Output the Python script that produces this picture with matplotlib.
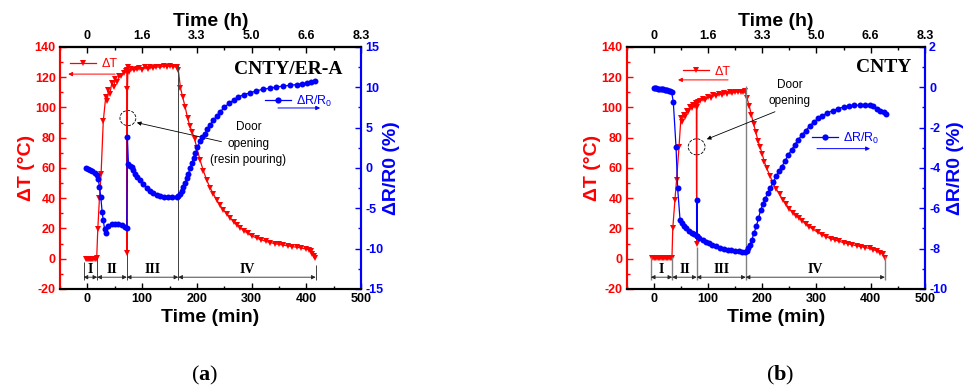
import matplotlib
matplotlib.use('Agg')
import matplotlib.pyplot as plt
from matplotlib.patches import Ellipse
from matplotlib.lines import Line2D
from matplotlib.ticker import MultipleLocator

plt.rcParams['font.family'] = ['Liberation Sans', 'DejaVu Sans']
plt.rcParams['axes.unicode_minus'] = False
plt.rcParams['mathtext.fontset'] = 'custom'
plt.rcParams['mathtext.rm'] = 'Liberation Sans'
plt.rcParams['mathtext.bf'] = 'Liberation Serif:bold'

RED = '#ff0000'
BLUE = '#0000ff'

# ---- panel (a) CNTY/ER-A ----
a_dt_t = [-3, -1, 1, 3, 5, 7, 9, 11, 13, 15, 17, 19, 22, 25, 29, 33.5, 36, 38.5, 41, 44.5,
          48, 51, 54, 58, 62, 66, 70, 72, 72.5, 73.2, 74, 76, 80, 85, 90, 95, 100, 105, 110, 115,
          120, 126, 133, 140, 145, 150, 157, 163, 166, 170, 174, 178.5, 183, 187, 191, 196, 200, 206, 212, 218,
          224, 230, 236, 242, 248, 255, 261, 267, 273, 279, 286, 293, 300, 310, 318, 326, 334, 342, 350, 358,
          366, 374, 383, 391, 399, 405, 408, 411, 414, 416]
a_dt_v = [0, 0, 0, 0, 0, 0, 0, 0, 0, 0, 0.5, 19.5, 40, 56, 91, 107, 104, 111.5, 109, 116,
          113.5, 119, 117, 120.5, 121, 122.5, 124, 125, 4, 112, 127, 123.5, 125.5, 124.5, 125.5, 126, 125, 126.5, 125.5, 126.5,
          126, 127, 126.5, 127.5, 127, 127.5, 127, 127, 125, 113, 107, 100.5, 93, 88, 84, 79, 73, 65, 58, 52,
          47, 43, 39, 35.5, 32.5, 29.5, 27, 24.5, 22.5, 20.5, 18.5, 16.8, 15.2, 13.5, 12.5, 11.5, 10.7, 10, 9.5, 9,
          8.5, 8, 7.6, 7, 6.5, 6, 5, 3, 1.5, 0.5]
a_dr_t = [-2.4, 1, 5, 9, 14, 17, 20, 22, 24.5, 27, 29, 31.5, 34, 38.5, 44.5, 50, 56.5, 63, 69, 72,
          73, 75, 78, 81, 84, 87, 91, 96, 102, 108.5, 114, 120.5, 127, 133, 140, 147, 155, 163, 166, 169,
          172.5, 175.5, 178.5, 181.5, 184.5, 188, 191, 194, 197, 201, 206, 210, 215, 219, 224, 230, 236, 243, 250, 258,
          267, 276, 286, 297, 308, 320, 334, 345, 358, 370, 382, 392, 401, 409, 416]
a_dr_v = [0.0, -0.15, -0.25, -0.4, -0.6, -0.9, -1.4, -2.4, -3.6, -5.5, -6.5, -7.6, -8.0, -7.2, -7.0, -6.9, -6.95, -7.1, -7.3, -7.4,
          3.9, 0.5, 0.3, 0.1, -0.3, -0.7, -1.1, -1.5, -2.0, -2.5, -2.85, -3.1, -3.35, -3.5, -3.6, -3.65, -3.65, -3.6, -3.5, -3.2,
          -2.9, -2.4, -1.9, -1.3, -0.7, 0.0, 0.6, 1.2, 1.8, 2.6, 3.3, 3.8, 4.2, 4.8, 5.3, 5.9, 6.4, 7.0, 7.5, 8.0,
          8.4, 8.8, 9.1, 9.3, 9.55, 9.75, 9.9, 10.05, 10.15, 10.25, 10.35, 10.45, 10.5, 10.6, 10.75]
a_bounds = [-7, 18, 72, 166, 417]
a_tops = [-2, 0.5, 4, 128, -4]

# ---- panel (b) CNTY ----
b_dt_t = [-3, -0.5, 2, 4.5, 7, 9.5, 12, 14.5, 17, 19.5, 22, 24.5, 27, 29.5, 32, 33.5,
          35, 39, 42, 46.5, 50, 52, 55, 58, 61, 64, 67, 70, 73, 76, 78.5, 79, 79.5,
          81, 85, 90, 95, 100, 105, 110, 115, 120, 125, 130, 135, 140, 145, 150, 155, 160, 165, 168,
          172, 176, 180, 184, 188, 192, 196, 200, 204, 208, 214, 220, 226, 232, 238, 244, 250, 256, 262, 268, 274, 280, 287, 294,
          302, 310, 318, 326, 334, 342, 350, 358, 366, 374, 382, 390, 398, 405, 412, 418, 422, 426]
b_dt_v = [0.5, 0.5, 0.5, 0.5, 0.5, 0.5, 0.5, 0.5, 0.5, 0.5, 0.5, 0.5, 0.5, 0.5, 0.5, 0.5,
          20, 39, 52, 74, 93, 90.5, 95, 94, 98, 97, 100, 99.5, 101.5, 101, 103, 10, 100,
          103.5, 104, 105.5, 105, 107, 106.5, 108, 107.5, 109, 108.5, 109.5, 109, 110, 109.5, 110.5, 110, 110.5, 110, 111,
          106, 101, 95, 89, 84, 78, 74, 69, 64, 60, 55, 50, 46, 42.5, 39, 36, 33, 30.5, 28.5, 27, 25, 23, 21, 19.5,
          17.5, 16, 14.5, 13.3, 12.4, 11.5, 10.6, 9.9, 9.2, 8.6, 8, 7.4, 6.8, 6, 5, 4, 3.2, 0.8]
b_dr_t = [0, 2.5, 5, 7.5, 10, 12.5, 15, 17.5, 20, 22.5, 25, 27.5, 30, 33, 36, 41, 44, 48.5, 52, 56,
          60, 65, 70, 75, 79, 79.5, 80, 84, 90, 96, 102, 108, 115, 122, 129, 136, 143, 150, 157, 163,
          168, 171, 174, 177, 181, 185, 189, 193, 197, 201, 205, 210, 215, 220, 226, 231, 236, 242, 248, 254,
          260, 266, 273, 280, 288, 295, 303, 311, 320, 330, 340, 350, 360, 370, 380, 390, 398, 405, 412, 418,
          424, 429]
b_dr_v = [-0.05, -0.04, -0.05, -0.06, -0.07, -0.08, -0.09, -0.1, -0.11, -0.12, -0.14, -0.16, -0.19, -0.25, -0.73, -2.95, -5.0, -6.6, -6.75, -6.9,
          -7.0, -7.1, -7.2, -7.28, -7.35, -5.6, -7.37, -7.45, -7.55, -7.65, -7.72, -7.8, -7.87, -7.95, -8.0, -8.05, -8.05, -8.1, -8.1, -8.15,
          -8.17, -8.1, -7.95, -7.8, -7.55, -7.2, -6.9, -6.5, -6.1, -5.8, -5.55, -5.25, -5.0, -4.7, -4.4, -4.15, -3.94, -3.65, -3.35, -3.1,
          -2.85, -2.6, -2.37, -2.15, -1.9, -1.72, -1.54, -1.4, -1.27, -1.15, -1.05, -0.98, -0.93, -0.9, -0.88, -0.88, -0.9, -0.95, -1.05, -1.15,
          -1.23, -1.3]
b_bounds = [-5.5, 34, 79, 169.5, 426]
b_tops = [1, 1, 8, 114, 1.5]

regions = ['I', 'II', 'III', 'IV']
x_ticks = [0, 100, 200, 300, 400, 500]
hour_labels = ['0', '1.6', '3.3', '5.0', '6.6', '8.3']

fig = plt.figure(figsize=(9.65, 3.9), dpi=100)


def bold_ticks(axis_obj):
    for lab in axis_obj.get_ticklabels():
        lab.set_fontweight('bold')


def panel(rect, dt_t, dt_v, dr_t, dr_v, r_lim, r_step, bounds, tops, title, title_xy,
          door, door_xy, tail, head, ell_xy, ell_wh, leg_dt, arr_dt, leg_dr, arr_dr,
          caption, cap_x, sep_color, sep_lw):
    ax = fig.add_axes(rect)
    ax2 = ax.twinx()

    ax.plot(dt_t, dt_v, color=RED, lw=0.9, marker='v', ms=4, mew=0)
    ax2.plot(dr_t, dr_v, color=BLUE, lw=0.9, marker='o', ms=4.3, mew=0)

    ax.set_xlim(-50, 500)
    ax.set_ylim(-20, 140)
    ax2.set_ylim(*r_lim)
    ax.set_xticks(x_ticks)
    ax.xaxis.set_minor_locator(MultipleLocator(50))
    ax.set_yticks(list(range(-20, 141, 20)))
    ax.yaxis.set_minor_locator(MultipleLocator(10))
    r_ticks = list(range(r_lim[0], r_lim[1] + 1, r_step))
    ax2.set_yticks(r_ticks)
    ax2.yaxis.set_minor_locator(MultipleLocator(r_step / 2))

    ax.tick_params(axis='x', which='both', direction='in', top=False, labelsize=9)
    ax.tick_params(axis='y', which='both', direction='in', right=False, colors=RED, labelsize=9)
    ax2.tick_params(axis='y', which='both', direction='in', colors=BLUE, labelsize=9)
    for a in (ax, ax2):
        a.tick_params(which='major', length=4, width=1, pad=3)
        a.tick_params(which='minor', length=2.5, width=1)

    for s in ax.spines.values():
        s.set_linewidth(1.5)
    for s in ax2.spines.values():
        s.set_linewidth(1.5)
    ax.spines['left'].set_color(RED)
    ax2.spines['left'].set_color(RED)
    ax.spines['right'].set_color(BLUE)
    ax2.spines['right'].set_color(BLUE)

    top = ax.secondary_xaxis('top')
    top.set_xticks(x_ticks, labels=hour_labels)
    top.xaxis.set_minor_locator(MultipleLocator(50))
    top.tick_params(which='both', direction='in', labelsize=9)
    top.tick_params(which='major', length=4, width=1)
    top.tick_params(which='minor', length=2.5, width=1)
    top.spines['top'].set_linewidth(1.5)
    top.set_xlabel('Time (h)', fontsize=14, fontweight='bold', labelpad=3)

    bold_ticks(ax.xaxis)
    bold_ticks(ax.yaxis)
    bold_ticks(ax2.yaxis)
    bold_ticks(top.xaxis)

    ax.set_xlabel('Time (min)', fontsize=14, fontweight='bold', labelpad=3)
    ax.set_ylabel('ΔT (°C)', fontsize=14, fontweight='bold', color=RED, labelpad=0)
    ax2.set_ylabel('ΔR/R0 (%)', fontsize=14, fontweight='bold', color=BLUE, labelpad=0)

    # stage boundaries and arrows
    ax.vlines(bounds, tops, -14, color=sep_color, lw=sep_lw)
    for i, lab in enumerate(regions):
        ax.annotate('', xy=(bounds[i + 1], -12.2), xytext=(bounds[i], -12.2),
                    arrowprops=dict(arrowstyle='<|-|>', color='0.15', lw=0.6,
                                    mutation_scale=6, shrinkA=0, shrinkB=0))
        ax.text((bounds[i] + bounds[i + 1]) / 2, -7.2, lab, ha='center', va='center',
                family='Liberation Serif', fontsize=10, fontweight='bold')

    ax.text(title_xy[0], title_xy[1], title, transform=ax.transAxes, ha='right', va='center',
            family='Liberation Serif', fontsize=14, fontweight='bold')

    ax.add_patch(Ellipse(ell_xy, ell_wh[0], ell_wh[1], fill=False, ls='--', lw=0.6, ec='black'))
    ax.annotate('', xy=head, xytext=tail,
                arrowprops=dict(arrowstyle='-|>', color='black', lw=0.6,
                                mutation_scale=6, shrinkA=0, shrinkB=0))
    ax.text(door_xy[0], door_xy[1], door, ha='center', va='center', fontsize=8.5,
            linespacing=1.5)

    # legends with direction arrows
    h1 = Line2D([], [], color=RED, lw=0.9, marker='v', ms=4.5, mew=0)
    h2 = Line2D([], [], color=BLUE, lw=0.9, marker='o', ms=4.5, mew=0)
    l1 = ax2.legend([h1], ['ΔT'], loc='center left', bbox_to_anchor=leg_dt, frameon=False,
                    prop={'size': 9}, handlelength=2.1, handletextpad=0.4,
                    borderpad=0, borderaxespad=0, labelcolor=RED)
    ax2.add_artist(l1)
    ax2.legend([h2], ['ΔR/R$_0$'], loc='center left', bbox_to_anchor=leg_dr, frameon=False,
               prop={'size': 9}, handlelength=2.1, handletextpad=0.4,
               borderpad=0, borderaxespad=0, labelcolor=BLUE)
    ax2.annotate('', xy=arr_dt[1], xytext=arr_dt[0], xycoords='axes fraction',
                 arrowprops=dict(arrowstyle='-|>', color=RED, lw=0.7, mutation_scale=6,
                                 shrinkA=0, shrinkB=0))
    ax2.annotate('', xy=arr_dr[1], xytext=arr_dr[0], xycoords='axes fraction',
                 arrowprops=dict(arrowstyle='-|>', color=BLUE, lw=0.7, mutation_scale=6,
                                 shrinkA=0, shrinkB=0))

    fig.text(cap_x, 0.038, r'($\mathbf{' + caption + '}$)', family='Liberation Serif',
             fontsize=16, ha='center', va='center')


panel([0.0622, 0.259, 0.312, 0.6205], a_dt_t, a_dt_v, a_dr_t, a_dr_v, (-15, 15), 5,
      a_bounds, a_tops, 'CNTY/ER-A', (0.939, 0.905),
      'Door\nopening\n(resin pouring)', (294, 76), (245, 77.4), (90.3, 90), (74, 93), (29, 10),
      (0.033, 0.93), ((0.183, 0.888), (0.027, 0.888)),
      (0.681, 0.777), ((0.724, 0.748), (0.864, 0.748)),
      'a', 0.212, '0.25', 0.7)

panel([0.6494, 0.259, 0.3091, 0.6205], b_dt_t, b_dt_v, b_dr_t, b_dr_v, (-10, 2), 2,
      b_bounds, b_tops, 'CNTY', (0.955, 0.914),
      'Door\nopening', (251, 109.7), (223.5, 97.2), (97.7, 79), (79, 74), (31, 10.6),
      (0.189, 0.898), ((0.340, 0.864), (0.172, 0.864)),
      (0.621, 0.624), ((0.638, 0.58), (0.816, 0.58)),
      'b', 0.808, '0.5', 1.0)

fig.savefig('out.png', dpi=100)
